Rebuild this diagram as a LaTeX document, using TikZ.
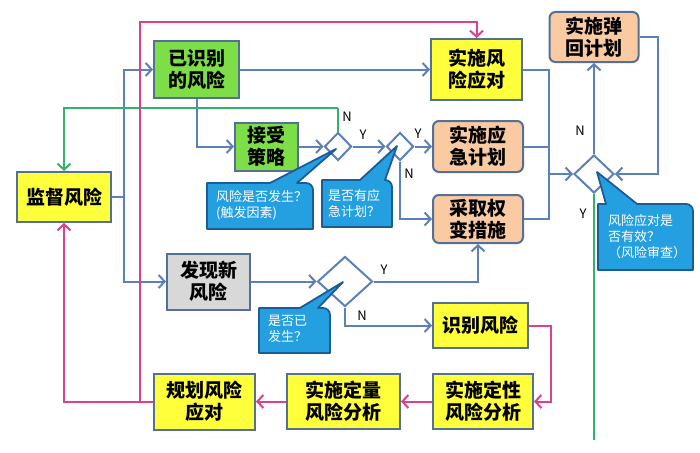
\documentclass[tikz,border=0pt]{standalone}
\usepackage{fontspec}
\setmainfont{Noto Sans CJK SC}
\usetikzlibrary{arrows.meta,shapes.geometric}
\definecolor{boxgreen}{RGB}{126,222,72}
\definecolor{boxyellow}{RGB}{255,255,60}
\definecolor{boxpeach}{RGB}{250,203,162}
\definecolor{boxgrey}{RGB}{216,216,216}
\definecolor{bdr}{RGB}{84,112,150}
\definecolor{lineblue}{RGB}{92,128,186}
\definecolor{linepink}{RGB}{222,62,142}
\definecolor{linegreen}{RGB}{52,178,108}
\definecolor{callfill}{RGB}{36,160,224}
\definecolor{callbdr}{RGB}{28,92,150}
\tikzset{
  box/.style={draw=bdr, line width=2pt, font=\bfseries\fontsize{19}{22}\selectfont, align=center, inner sep=0pt},
  grn/.style={box, fill=boxgreen},
  ylw/.style={box, fill=boxyellow},
  pch/.style={box, fill=boxpeach, rounded corners=6pt},
  gry/.style={box, fill=boxgrey},
  dia/.style={diamond, draw=lineblue, fill=white, line width=2pt, inner sep=0pt},
  tip/.style={-{Straight Barb[length=6pt,width=13pt,line width=2pt]}},
  bl/.style={draw=lineblue, line width=2pt},
  bla/.style={bl, tip},
  gr/.style={draw=linegreen, line width=2pt},
  gra/.style={gr, tip},
  pk/.style={draw=linepink, line width=2pt},
  pka/.style={pk, tip},
  callout/.style={draw=callbdr, fill=callfill, line width=1.8pt, line join=round},
  ctext/.style={text=white, font=\fontsize{13}{16}\selectfont, align=left, inner sep=0pt, anchor=north west},
  yn/.style={font=\fontsize{13}{13}\selectfont, inner sep=0pt}
}
\begin{document}
\begin{tikzpicture}[x=1pt,y=-1pt]
\fill[white] (0,0) rectangle (700,452);
\useasboundingbox (0,0) rectangle (700,452);

% boxes
\node[grn, minimum width=85pt, minimum height=57pt] (A) at (196.5,69.5) {已识别\\的风险};
\node[grn, minimum width=63pt, minimum height=48pt] (B) at (266.5,146.5) {接受\\策略};
\node[ylw, minimum width=94pt, minimum height=50pt] (M) at (64,197) {监督风险};
\node[ylw, minimum width=91pt, minimum height=61pt] (R) at (476.5,69.5) {实施风\\险应对};
\node[pch, minimum width=90pt, minimum height=51pt] (E) at (478,146.5) {实施应\\急计划};
\node[pch, minimum width=90pt, minimum height=48pt] (C) at (478,219) {采取权\\变措施};
\node[pch, minimum width=89pt, minimum height=50pt] (T) at (594,37) {实施弹\\回计划};
\node[gry, minimum width=83pt, minimum height=56pt] (F) at (208.5,281.5) {发现新\\风险};
\node[ylw, minimum width=95pt, minimum height=45pt] (I) at (480.5,325.5) {识别风险};
\node[ylw, minimum width=100pt, minimum height=55pt] (Q1) at (483,401.5) {实施定性\\风险分析};
\node[ylw, minimum width=113pt, minimum height=55pt] (Q2) at (343.5,401.5) {实施定量\\风险分析};
\node[ylw, minimum width=101pt, minimum height=56pt] (P) at (204.5,401.5) {规划风险\\应对};

% diamonds
\node[dia, minimum width=27pt, minimum height=28pt] (D1) at (338,146.5) {};
\node[dia, minimum width=27pt, minimum height=28pt] (D2) at (400,146.5) {};
\node[dia, minimum width=40pt, minimum height=38pt] (D3) at (594,174) {};
\node[dia, minimum width=55pt, minimum height=50pt] (D4) at (345,281.5) {};

% blue connectors
\coordinate (m1) at (124,197);
\draw[bl] (M.east) -- (m1);
\draw[bla] (m1) |- (A.west);
\draw[bla] (m1) |- (F.west);
\draw[bla] (A.east) -- (R.west);
\draw[bla] (A.south) |- (B.west);
\draw[bla] (B.east) -- (D1.west);
\draw[bla] (D1.east) -- (D2.west);
\draw[bla] (D2.east) -- (E.west);
\draw[bla] (D2.south) |- (C.west);
\coordinate (bus) at (549,174);
\draw[bl] (R.east) -| (bus);
\draw[bl] (E.east) -| (bus);
\draw[bl] (C.east) -| (bus);
\draw[bla] (bus) -- (D3.west);
\draw[bla] (D3.north) -- (T.south);
\draw[bla] (T.east) -- ++(18,0) |- (D3.east);
\draw[bla] (F.east) -- (D4.west);
\draw[bla] (D4.east) -| (C.south);
\draw[bla] (D4.south) |- (I.west);

% green connectors
\coordinate (g1) at (338,108);
\draw[gr] (D1.north) -- (g1);
\draw[gra] (g1) -| (M.north);
\coordinate (gend) at (594,440);
\draw[gr] (D3.south) -- (gend);

% pink connectors
\draw[pka] (I.east) -- ++(22,0) |- (Q1.east);
\draw[pka] (Q1.west) -- (Q2.east);
\draw[pka] (Q2.west) -- (P.east);
\coordinate (p1) at (140,401.5);
\coordinate (ptop) at (140,22);
\draw[pka] (P.west) -| (M.south);
\draw[pka] (p1) -- (ptop) -| (R.north);

% Y/N labels
\node[yn] (n1) at (347,117) {N};
\node[yn] (y1) at (363,135) {Y};
\node[yn] (y2) at (418,134) {Y};
\node[yn] (n2) at (409,174) {N};
\node[yn] (n3) at (580,131) {N};
\node[yn] (y3) at (583,214) {Y};
\node[yn] (y4) at (384,270) {Y};
\node[yn] (n4) at (362,316) {N};

% callouts
\draw[callout] (313,206) -- (313,229) -- (207,229) -- (207,183) -- (270,183) [sharp corners] -- (336,149) -- (297,183) [rounded corners=7pt] -- (313,183) -- cycle;
\node[ctext] (k1) at (216,190) {风险是否发生？\\(触发因素)};

\draw[callout] (392,204) -- (392,227) -- (322,227) -- (322,180) -- (360,180) [sharp corners] -- (397,146) -- (385,180) [rounded corners=7pt] -- (392,180) -- cycle;
\node[ctext] (k2) at (328,189) {是否有应\\急计划？};

\draw[callout] (693,236) -- (693,270) -- (598,270) -- (598,204) -- (606,204) [sharp corners] -- (597,172) -- (637,204) [rounded corners=7pt] -- (693,204) -- cycle;
\node[ctext] (k3) at (608,214) {风险应对是\\否有效？\\（风险审查）};

\draw[callout] (330,330) -- (330,353) -- (259,353) -- (259,308) -- (300,308) [sharp corners] -- (343,282) -- (318,308) [rounded corners=7pt] -- (330,308) -- cycle;
\node[ctext] (k4) at (268,315) {是否已\\发生？};
\end{tikzpicture}
\end{document}
